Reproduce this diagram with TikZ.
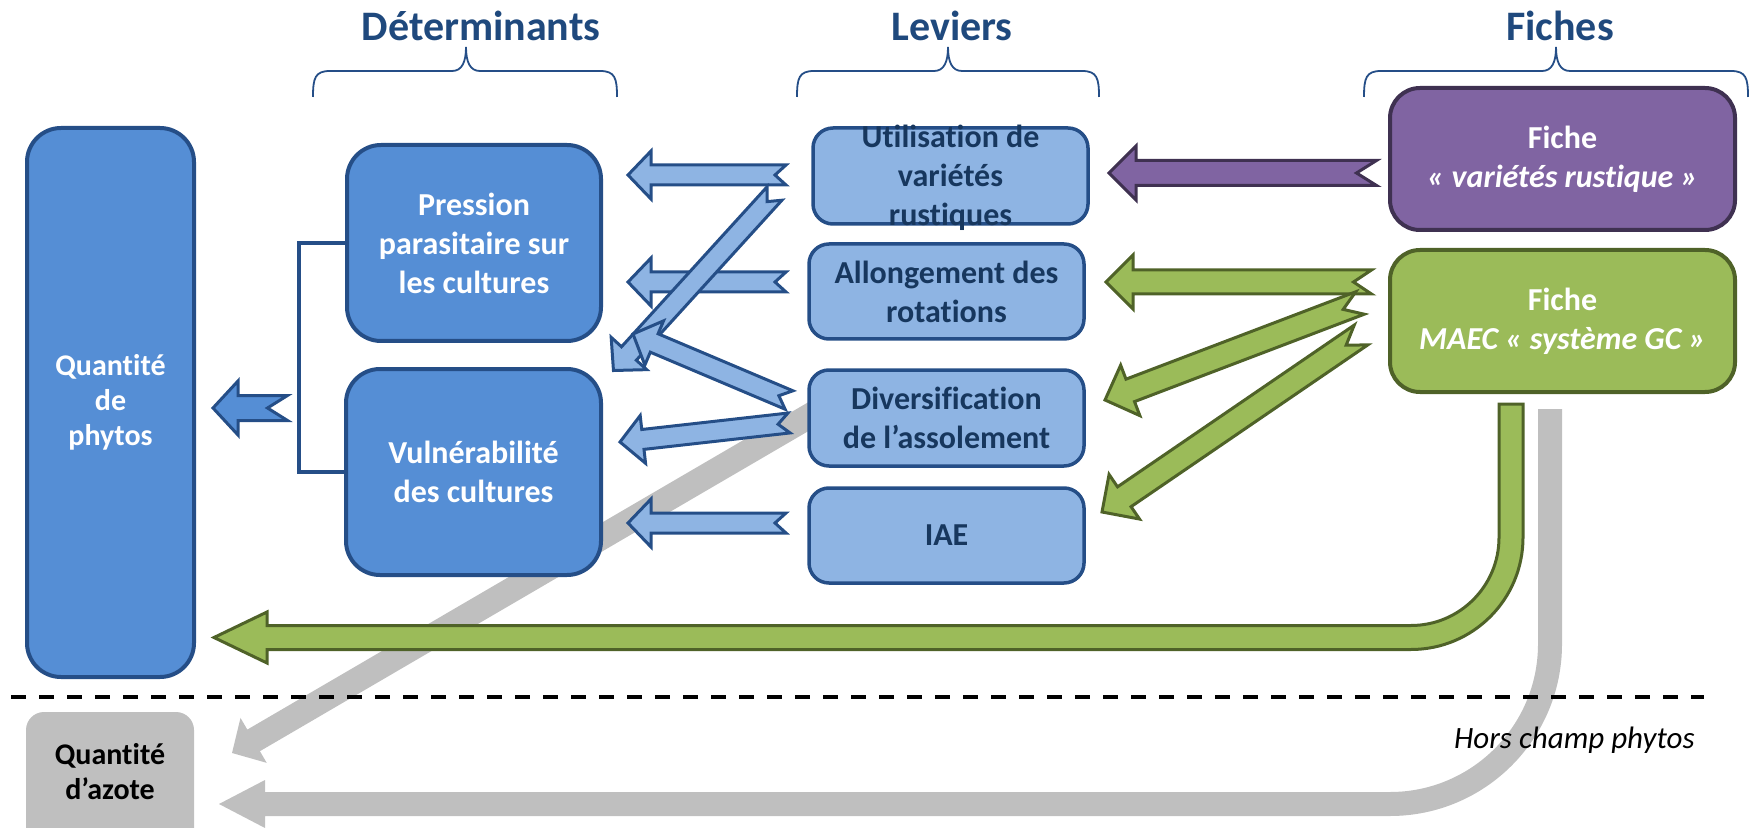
\documentclass[tikz,border=0pt]{standalone}
\usepackage{fontspec}
\setmainfont{Carlito}[Ligatures={NoCommon,NoContextual}]
\usetikzlibrary{calc}
\definecolor{titleblue}{HTML}{1F497D}
\definecolor{boxline}{HTML}{254E87}
\definecolor{midblue}{HTML}{558ED5}
\definecolor{lightblue}{HTML}{8EB4E3}
\definecolor{navytext}{HTML}{17375E}
\definecolor{purplefill}{HTML}{8064A2}
\definecolor{purpleline}{HTML}{3F3151}
\definecolor{greenfill}{HTML}{9BBB59}
\definecolor{greenline}{HTML}{4F6228}
\definecolor{greyfill}{HTML}{BFBFBF}
\newcommand\bxfont{\fontsize{16pt}{19.5pt}\selectfont\bfseries}
\newcommand\qfont{\fontsize{15pt}{17.5pt}\selectfont\bfseries}
\newcommand\ttlfont{\fontsize{21pt}{25pt}\selectfont\bfseries}
% notched block arrow: style, tail, tip, shaft half width, head half width, head length, notch (px)
\newcommand\notcharrow[7]{%
  \path let \p1=(#2), \p2=(#3), \n1={atan2(\y2-\y1,\x2-\x1)}, \n2={veclen(\x2-\x1,\y2-\y1)} in
    \pgfextra{\xdef\naAng{\n1}\xdef\naLen{\n2}\xdef\naX{\x1}\xdef\naY{\y1}};
  \begin{scope}[shift={(\naX,\naY)}, rotate=\naAng]
    \path[#1] (0pt,{#4*0.5pt}) -- ({\naLen*1pt-#6*0.5pt},{#4*0.5pt}) -- ({\naLen*1pt-#6*0.5pt},{#5*0.5pt})
      -- ({\naLen*1pt},0pt) -- ({\naLen*1pt-#6*0.5pt},{-#5*0.5pt}) -- ({\naLen*1pt-#6*0.5pt},{-#4*0.5pt})
      -- (0pt,{-#4*0.5pt}) -- ({#7*0.5pt},0pt) -- cycle;
  \end{scope}}
\begin{document}
\begin{tikzpicture}[x=0.5pt,y=-0.5pt,
  ttl/.style={text=titleblue, font=\ttlfont, anchor=base, inner sep=0pt},
  brace/.style={draw=boxline, line width=0.9pt},
  bluebox/.style={draw=boxline, fill=midblue, line width=2pt, rounded corners=17pt, text=white, font=\bxfont, align=center, inner sep=0pt},
  lbox/.style={draw=boxline, fill=lightblue, line width=1.75pt, rounded corners=10pt, text=navytext, font=\bxfont, align=center, inner sep=0pt},
  purplebox/.style={draw=purpleline, fill=purplefill, line width=2pt, rounded corners=15pt, text=white, font=\bxfont, align=center, inner sep=0pt},
  greenbox/.style={draw=greenline, fill=greenfill, line width=2pt, rounded corners=15pt, text=white, font=\bxfont, align=center, inner sep=0pt},
  greybox/.style={fill=greyfill, rounded corners=9pt, inner sep=0pt},
  bluearrow/.style={draw=boxline, fill=lightblue, line width=1.5pt, line join=miter},
  qarrow/.style={draw=boxline, fill=midblue, line width=1.5pt, line join=miter},
  purplearrow/.style={draw=purpleline, fill=purplefill, line width=1.5pt, line join=miter},
  greenarrow/.style={draw=greenline, fill=greenfill, line width=1.5pt, line join=miter},
  greyarrow/.style={fill=greyfill}
]
\useasboundingbox (0,0) rectangle (1754,828);

% ---- grey connectors (behind) ----
\coordinate (gdt) at (830,404);
\coordinate (gdh) at (232,753);
\notcharrow{greyarrow}{gdt}{gdh}{12.5}{26}{25}{0}
\path[greyarrow] (1538,409) -- (1538,644) .. controls (1538,725.7) and (1471.7,792) .. (1390,792)
  -- (265,792) -- (265,780) -- (219,804) -- (265,828) -- (265,816) -- (1390,816)
  .. controls (1485,816) and (1562,739) .. (1562,644) -- (1562,409) -- cycle;

% ---- dashed separator ----
\coordinate (dl) at (11,697);
\coordinate (dr) at (1704,697);
\draw[black, line width=2.2pt, dash pattern=on 7.5pt off 6.5pt] (dl) -- (dr);
\node[font=\fontsize{15.5pt}{18pt}\selectfont\itshape, anchor=base east, inner sep=0pt] (hors) at (1695,748) {Hors champ phytos};

% ---- titles and braces ----
\node[ttl] (tdet) at (481,41) {Déterminants};
\node[ttl] (tlev) at (952,41) {Leviers};
\node[ttl] (tfic) at (1560,41) {Fiches};
\draw[brace] (313,97) .. controls (313,78) and (315,71) .. (330,71) -- (452,71)
  .. controls (462,71) and (466,62) .. (466,47) .. controls (466,62) and (470,71) .. (480,71)
  -- (600,71) .. controls (615,71) and (617,78) .. (617,97);
\draw[brace] (797,97) .. controls (797,78) and (799,71) .. (814,71) -- (934,71)
  .. controls (944,71) and (948,62) .. (948,47) .. controls (948,62) and (952,71) .. (962,71)
  -- (1082,71) .. controls (1097,71) and (1099,78) .. (1099,97);
\draw[brace] (1364,97) .. controls (1364,78) and (1366,71) .. (1381,71) -- (1542,71)
  .. controls (1552,71) and (1556,62) .. (1556,47) .. controls (1556,62) and (1560,71) .. (1570,71)
  -- (1731,71) .. controls (1746,71) and (1748,78) .. (1748,97);

% ---- boxes ----
\node[bluebox, font=\qfont, minimum width=83.5pt, minimum height=274.5pt] (qp) at (110.5,402.5) {Quantité\\de\\phytos};
\node[bluebox, minimum width=127pt, minimum height=98pt] (pression) at (474,243) {Pression\\parasitaire sur\\les cultures};
\node[bluebox, minimum width=127.5pt, minimum height=103pt] (vuln) at (473.5,472) {Vulnérabilité\\des cultures};
\node[lbox, minimum width=137.5pt, minimum height=48pt] (util) at (950.5,176) {};
\node[text=navytext, font=\bxfont, align=center, inner sep=0pt] (utiltext) at (950.5,178) {Utilisation de\\variétés\\rustiques};
\node[lbox, minimum width=137.5pt, minimum height=47.5pt] (allong) at (946.5,291.5) {Allongement des\\rotations};
\node[lbox, minimum width=137.5pt, minimum height=48pt] (div) at (946.5,418) {Diversification\\de l’assolement};
\node[lbox, minimum width=137.5pt, minimum height=47.5pt] (iae) at (946.5,535.5) {IAE};
\node[purplebox, minimum width=172.5pt, minimum height=71pt] (fvar) at (1562.5,159) {Fiche\\\itshape « variétés rustique »};
\node[greenbox, minimum width=172.5pt, minimum height=71pt] (fmaec) at (1562.5,321) {Fiche\\\itshape MAEC « système GC »};
\node[greybox, minimum width=84pt, minimum height=74pt] (azote) at (110,786) {};
\node[font=\qfont, align=center, inner sep=0pt] (azotetext) at (110,772) {Quantité\\d’azote};

% ---- bracket joining the determinants ----
\draw[boxline, line width=1.75pt] (pression.west) -- ++(-46,0) |- (vuln.west);

% ---- blue connectors ----
\coordinate (q1t) at (287.5,408);  \coordinate (q1h) at (213,408);
\coordinate (b1t) at (786,175);    \coordinate (b1h) at (628,175);
\coordinate (b2t) at (786,282);    \coordinate (b2h) at (628,282);
\coordinate (b3t) at (774.5,193.5);\coordinate (b3h) at (613,371);
\coordinate (b4t) at (789,400);    \coordinate (b4h) at (633,334);
\coordinate (b5t) at (789,423);    \coordinate (b5h) at (620,442);
\coordinate (b6t) at (786,523);    \coordinate (b6h) at (628,523);
\notcharrow{qarrow}{q1t}{q1h}{12.5}{27}{25}{20}
\notcharrow{bluearrow}{b1t}{b1h}{10}{24}{23}{11}
\notcharrow{bluearrow}{b2t}{b2h}{10}{24}{23}{11}
\notcharrow{bluearrow}{b3t}{b3h}{10}{24}{23}{11}
\notcharrow{bluearrow}{b4t}{b4h}{10}{24}{23}{11}
\notcharrow{bluearrow}{b5t}{b5h}{10}{24}{23}{11}
\notcharrow{bluearrow}{b6t}{b6h}{10}{24}{23}{11}

% ---- purple and green connectors ----
\coordinate (p1t) at (1376.5,173); \coordinate (p1h) at (1109,173);
\coordinate (g1t) at (1371.5,282); \coordinate (g1h) at (1106,282);
\coordinate (g2t) at (1360,303);   \coordinate (g2h) at (1105,400);
\coordinate (g3t) at (1361,335);   \coordinate (g3h) at (1102,512);
\notcharrow{purplearrow}{p1t}{p1h}{12.5}{27}{27}{20}
\notcharrow{greenarrow}{g1t}{g1h}{12}{27}{27}{18}
\notcharrow{greenarrow}{g2t}{g2h}{12}{27}{27}{18}
\notcharrow{greenarrow}{g3t}{g3h}{12}{27}{27}{18}

% ---- big green connector: Fiche MAEC -> Quantité de phytos ----
\path[greenarrow] (1499,404) -- (1499,537.5) .. controls (1499,586.1) and (1459.6,625.5) .. (1411,625.5)
  -- (267,625.5) -- (267,612) -- (214,637.5) -- (267,663) -- (267,649.5) -- (1411,649.5)
  .. controls (1472.9,649.5) and (1523,599.4) .. (1523,537.5) -- (1523,404) -- cycle;
\end{tikzpicture}
\end{document}
